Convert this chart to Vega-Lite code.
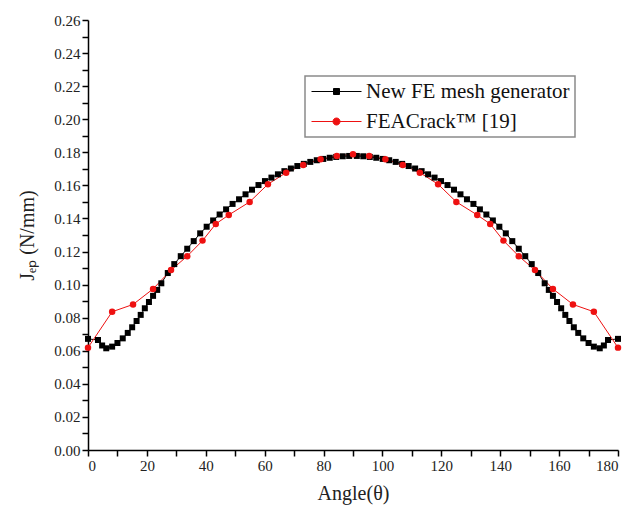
{
  "$schema": "https://vega.github.io/schema/vega-lite/v6.json",
  "width": 530,
  "height": 430,
  "autosize": {"type": "none"},
  "padding": {"left": 88, "top": 20, "right": 22, "bottom": 63},
  "background": "white",
  "config": {
    "view": {"stroke": null},
    "font": "Liberation Serif",
    "legend": {"strokeColor": "#8a8a8a", "strokeWidth": 1.5},
    "axis": {
      "domainColor": "#000",
      "domainWidth": 1.5,
      "tickColor": "#000",
      "tickWidth": 1.5,
      "grid": false,
      "labelFont": "Liberation Serif",
      "labelFontSize": 15,
      "labelColor": "#222",
      "titleFont": "Liberation Serif",
      "titleFontSize": 20,
      "titleFontWeight": "normal",
      "titleColor": "#222"
    }
  },
  "data": {
    "values": [
      {"series": "New FE mesh generator", "angle": 0, "J": 0.0672},
      {"series": "New FE mesh generator", "angle": 3.4, "J": 0.0665},
      {"series": "New FE mesh generator", "angle": 4.8, "J": 0.0632},
      {"series": "New FE mesh generator", "angle": 6.2, "J": 0.0615},
      {"series": "New FE mesh generator", "angle": 8.2, "J": 0.0625},
      {"series": "New FE mesh generator", "angle": 10, "J": 0.0647},
      {"series": "New FE mesh generator", "angle": 11.8, "J": 0.0675},
      {"series": "New FE mesh generator", "angle": 13.5, "J": 0.0708},
      {"series": "New FE mesh generator", "angle": 15, "J": 0.0742},
      {"series": "New FE mesh generator", "angle": 16.5, "J": 0.078},
      {"series": "New FE mesh generator", "angle": 17.9, "J": 0.0817},
      {"series": "New FE mesh generator", "angle": 19.3, "J": 0.0857},
      {"series": "New FE mesh generator", "angle": 20.7, "J": 0.0895},
      {"series": "New FE mesh generator", "angle": 22.1, "J": 0.0932},
      {"series": "New FE mesh generator", "angle": 23.5, "J": 0.0968},
      {"series": "New FE mesh generator", "angle": 24.9, "J": 0.1008},
      {"series": "New FE mesh generator", "angle": 27.1, "J": 0.107},
      {"series": "New FE mesh generator", "angle": 29.3, "J": 0.1124},
      {"series": "New FE mesh generator", "angle": 31.5, "J": 0.1172},
      {"series": "New FE mesh generator", "angle": 33.7, "J": 0.1217},
      {"series": "New FE mesh generator", "angle": 35.9, "J": 0.1263},
      {"series": "New FE mesh generator", "angle": 38.1, "J": 0.131},
      {"series": "New FE mesh generator", "angle": 40.3, "J": 0.135},
      {"series": "New FE mesh generator", "angle": 42.5, "J": 0.1388},
      {"series": "New FE mesh generator", "angle": 44.7, "J": 0.1424},
      {"series": "New FE mesh generator", "angle": 46.9, "J": 0.1455},
      {"series": "New FE mesh generator", "angle": 49.1, "J": 0.1488},
      {"series": "New FE mesh generator", "angle": 51.3, "J": 0.1516},
      {"series": "New FE mesh generator", "angle": 53.5, "J": 0.1546},
      {"series": "New FE mesh generator", "angle": 55.7, "J": 0.1574},
      {"series": "New FE mesh generator", "angle": 57.9, "J": 0.1602},
      {"series": "New FE mesh generator", "angle": 60.1, "J": 0.1626},
      {"series": "New FE mesh generator", "angle": 62.3, "J": 0.1647},
      {"series": "New FE mesh generator", "angle": 64.5, "J": 0.1667},
      {"series": "New FE mesh generator", "angle": 66.7, "J": 0.1686},
      {"series": "New FE mesh generator", "angle": 68.9, "J": 0.1702},
      {"series": "New FE mesh generator", "angle": 71.1, "J": 0.1717},
      {"series": "New FE mesh generator", "angle": 73.3, "J": 0.173},
      {"series": "New FE mesh generator", "angle": 75.5, "J": 0.1742},
      {"series": "New FE mesh generator", "angle": 77.7, "J": 0.1752},
      {"series": "New FE mesh generator", "angle": 79.9, "J": 0.176},
      {"series": "New FE mesh generator", "angle": 82.1, "J": 0.1767},
      {"series": "New FE mesh generator", "angle": 84.3, "J": 0.1772},
      {"series": "New FE mesh generator", "angle": 86.5, "J": 0.1776},
      {"series": "New FE mesh generator", "angle": 88.7, "J": 0.1778},
      {"series": "New FE mesh generator", "angle": 91.3, "J": 0.1778},
      {"series": "New FE mesh generator", "angle": 93.5, "J": 0.1776},
      {"series": "New FE mesh generator", "angle": 95.7, "J": 0.1772},
      {"series": "New FE mesh generator", "angle": 97.9, "J": 0.1767},
      {"series": "New FE mesh generator", "angle": 100.1, "J": 0.176},
      {"series": "New FE mesh generator", "angle": 102.3, "J": 0.1752},
      {"series": "New FE mesh generator", "angle": 104.5, "J": 0.1742},
      {"series": "New FE mesh generator", "angle": 106.7, "J": 0.173},
      {"series": "New FE mesh generator", "angle": 108.9, "J": 0.1717},
      {"series": "New FE mesh generator", "angle": 111.1, "J": 0.1702},
      {"series": "New FE mesh generator", "angle": 113.3, "J": 0.1686},
      {"series": "New FE mesh generator", "angle": 115.5, "J": 0.1667},
      {"series": "New FE mesh generator", "angle": 117.7, "J": 0.1647},
      {"series": "New FE mesh generator", "angle": 119.9, "J": 0.1626},
      {"series": "New FE mesh generator", "angle": 122.1, "J": 0.1602},
      {"series": "New FE mesh generator", "angle": 124.3, "J": 0.1574},
      {"series": "New FE mesh generator", "angle": 126.5, "J": 0.1546},
      {"series": "New FE mesh generator", "angle": 128.7, "J": 0.1516},
      {"series": "New FE mesh generator", "angle": 130.9, "J": 0.1488},
      {"series": "New FE mesh generator", "angle": 133.1, "J": 0.1455},
      {"series": "New FE mesh generator", "angle": 135.3, "J": 0.1424},
      {"series": "New FE mesh generator", "angle": 137.5, "J": 0.1388},
      {"series": "New FE mesh generator", "angle": 139.7, "J": 0.135},
      {"series": "New FE mesh generator", "angle": 141.9, "J": 0.131},
      {"series": "New FE mesh generator", "angle": 144.1, "J": 0.1263},
      {"series": "New FE mesh generator", "angle": 146.3, "J": 0.1217},
      {"series": "New FE mesh generator", "angle": 148.5, "J": 0.1172},
      {"series": "New FE mesh generator", "angle": 150.7, "J": 0.1124},
      {"series": "New FE mesh generator", "angle": 152.9, "J": 0.107},
      {"series": "New FE mesh generator", "angle": 155.1, "J": 0.1008},
      {"series": "New FE mesh generator", "angle": 156.5, "J": 0.0968},
      {"series": "New FE mesh generator", "angle": 157.9, "J": 0.0932},
      {"series": "New FE mesh generator", "angle": 159.3, "J": 0.0895},
      {"series": "New FE mesh generator", "angle": 160.7, "J": 0.0857},
      {"series": "New FE mesh generator", "angle": 162.1, "J": 0.0817},
      {"series": "New FE mesh generator", "angle": 163.5, "J": 0.078},
      {"series": "New FE mesh generator", "angle": 165, "J": 0.0742},
      {"series": "New FE mesh generator", "angle": 166.5, "J": 0.0708},
      {"series": "New FE mesh generator", "angle": 168.2, "J": 0.0675},
      {"series": "New FE mesh generator", "angle": 170, "J": 0.0647},
      {"series": "New FE mesh generator", "angle": 171.8, "J": 0.0625},
      {"series": "New FE mesh generator", "angle": 173.8, "J": 0.0615},
      {"series": "New FE mesh generator", "angle": 175.2, "J": 0.0632},
      {"series": "New FE mesh generator", "angle": 176.6, "J": 0.0665},
      {"series": "New FE mesh generator", "angle": 180, "J": 0.0672},
      {"series": "FEACrack™ [19]", "angle": 0, "J": 0.0619},
      {"series": "FEACrack™ [19]", "angle": 8.2, "J": 0.0836},
      {"series": "FEACrack™ [19]", "angle": 15.3, "J": 0.088},
      {"series": "FEACrack™ [19]", "angle": 22.1, "J": 0.0974},
      {"series": "FEACrack™ [19]", "angle": 28.2, "J": 0.1088},
      {"series": "FEACrack™ [19]", "angle": 33.7, "J": 0.1172},
      {"series": "FEACrack™ [19]", "angle": 38.9, "J": 0.1266},
      {"series": "FEACrack™ [19]", "angle": 43.4, "J": 0.1367},
      {"series": "FEACrack™ [19]", "angle": 47.8, "J": 0.1421},
      {"series": "FEACrack™ [19]", "angle": 54.9, "J": 0.15},
      {"series": "FEACrack™ [19]", "angle": 61.1, "J": 0.1607},
      {"series": "FEACrack™ [19]", "angle": 67.3, "J": 0.1677},
      {"series": "FEACrack™ [19]", "angle": 73.1, "J": 0.1723},
      {"series": "FEACrack™ [19]", "angle": 79, "J": 0.1758},
      {"series": "FEACrack™ [19]", "angle": 84.5, "J": 0.1778},
      {"series": "FEACrack™ [19]", "angle": 90, "J": 0.1788},
      {"series": "FEACrack™ [19]", "angle": 95.5, "J": 0.1778},
      {"series": "FEACrack™ [19]", "angle": 101, "J": 0.1758},
      {"series": "FEACrack™ [19]", "angle": 106.9, "J": 0.1723},
      {"series": "FEACrack™ [19]", "angle": 112.7, "J": 0.1677},
      {"series": "FEACrack™ [19]", "angle": 118.9, "J": 0.1607},
      {"series": "FEACrack™ [19]", "angle": 125.1, "J": 0.15},
      {"series": "FEACrack™ [19]", "angle": 132.2, "J": 0.1421},
      {"series": "FEACrack™ [19]", "angle": 136.6, "J": 0.1367},
      {"series": "FEACrack™ [19]", "angle": 141.1, "J": 0.1266},
      {"series": "FEACrack™ [19]", "angle": 146.3, "J": 0.1172},
      {"series": "FEACrack™ [19]", "angle": 151.8, "J": 0.1088},
      {"series": "FEACrack™ [19]", "angle": 157.9, "J": 0.0974},
      {"series": "FEACrack™ [19]", "angle": 164.7, "J": 0.088},
      {"series": "FEACrack™ [19]", "angle": 171.8, "J": 0.0836},
      {"series": "FEACrack™ [19]", "angle": 180, "J": 0.0619}
    ]
  },
  "encoding": {
    "x": {
      "field": "angle",
      "type": "quantitative",
      "scale": {"domain": [0, 180], "nice": false, "zero": false},
      "axis": {
        "title": "Angle(θ)",
        "values": [0, 10, 20, 30, 40, 50, 60, 70, 80, 90, 100, 110, 120, 130, 140, 150, 160, 170, 180],
        "labelExpr": "datum.value % 20 === 0 ? datum.label : ''",
        "tickSize": 6,
        "labelPadding": 2,
        "titlePadding": 10,
        "encode": {"ticks": {"update": {"y2": {"signal": "datum.value % 20 === 0 ? 6 : 3"}}}}
      }
    },
    "y": {
      "field": "J",
      "type": "quantitative",
      "scale": {"domain": [0, 0.26], "nice": false},
      "axis": {
        "title": "Jₑₚ (N/mm)",
        "values": [0, 0.01, 0.02, 0.03, 0.04, 0.05, 0.06, 0.07, 0.08, 0.09, 0.1, 0.11, 0.12, 0.13, 0.14, 0.15, 0.16, 0.17, 0.18, 0.19, 0.2, 0.21, 0.22, 0.23, 0.24, 0.25, 0.26],
        "labelExpr": "round(datum.value * 100) % 2 === 0 ? format(datum.value, '.2f') : ''",
        "tickSize": 6,
        "labelPadding": 2,
        "titlePadding": 16,
        "encode": {"ticks": {"update": {"x2": {"signal": "round(datum.value * 100) % 2 === 0 ? -6 : -3"}}}}
      }
    },
    "color": {
      "field": "series",
      "type": "nominal",
      "scale": {"domain": ["New FE mesh generator", "FEACrack™ [19]"], "range": ["#000000", "#ee1111"]},
      "legend": {
        "title": null,
        "orient": "none",
        "legendX": 217,
        "legendY": 56,
        "padding": 5,
        "symbolSize": 100,
        "symbolStrokeWidth": 1,
        "labelFont": "Liberation Serif",
        "labelFontSize": 21,
        "labelLimit": 0,
        "labelColor": "#111",
        "labelOffset": 35,
        "rowPadding": 8,
        "encode": {
          "symbols": {
            "update": {
              "shape": {"signal": "datum.value === 'New FE mesh generator' ? 'M-1.8,0H8.2M2.6,-0.6H3.8V0.6H2.6Z' : 'M-1.8,0H8.2M3.9,0A0.7,0.7,0,1,1,2.5,0A0.7,0.7,0,1,1,3.9,0Z'"},
              "fill": {"signal": "datum.value === 'New FE mesh generator' ? '#000000' : '#ee1111'"},
              "stroke": {"signal": "datum.value === 'New FE mesh generator' ? '#000000' : '#ee1111'"},
              "strokeWidth": {"value": 1},
              "opacity": {"value": 1}
            }
          }
        }
      }
    }
  },
  "layer": [
    {
      "mark": {"type": "line", "strokeWidth": 1}
    },
    {
      "transform": [{"filter": "datum.series === 'New FE mesh generator'"}],
      "mark": {"type": "point", "shape": "square", "filled": true, "size": 36, "opacity": 1}
    },
    {
      "transform": [{"filter": "datum.series !== 'New FE mesh generator'"}],
      "mark": {"type": "point", "shape": "circle", "filled": true, "size": 42, "opacity": 1}
    }
  ]
}
